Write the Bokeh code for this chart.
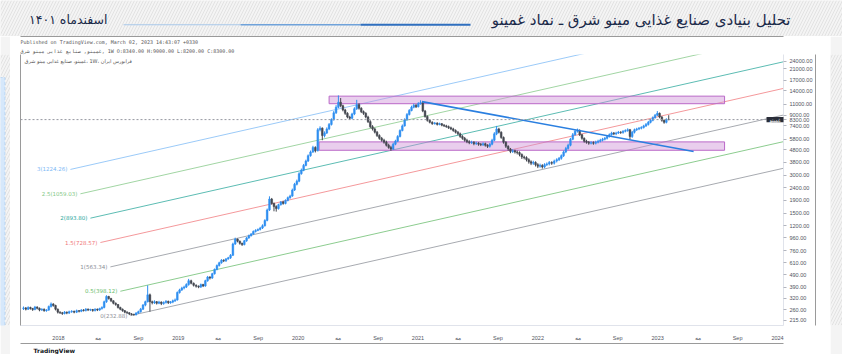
import pandas as pd
import numpy as np
from bokeh.plotting import figure
from bokeh.layouts import column, row
from bokeh.models import (ColumnDataSource, FixedTicker, PrintfTickFormatter, Span,
                          BoxAnnotation, Label, Range1d, LogAxis, LinearAxis, Title)
from bokeh.embed import file_html
from bokeh.resources import INLINE

# ---------------- data ----------------
start_date = "2017-09-16"
first_open = 265
closes = [
    268, 262, 270, 265, 260, 272, 266, 258, 262, 255,
    258, 275, 288, 280, 262, 248, 245, 242, 248, 244,
    250, 252, 248, 255, 252, 258, 256, 262, 258, 260,
    256, 262, 258, 265, 270, 300, 330, 318, 305, 292,
    285, 270, 262, 255, 248, 245, 240, 238, 236, 244,
    250, 262, 282, 300, 340, 300, 295, 300, 292, 298,
    290, 296, 302, 295, 298, 305, 310, 355, 372, 385,
    392, 410, 440, 420, 405, 398, 392, 410, 400, 440,
    470, 462, 500, 540, 580, 610, 640, 632, 655, 668,
    700, 860, 940, 905, 870, 850, 910, 960, 1000, 1030,
    1080, 1100, 1120, 1150, 1200, 1320, 1600, 1950, 1800, 1700,
    1640, 1760, 1850, 1800, 1900, 2000, 2060, 2300, 2550, 2700,
    3100, 3300, 3600, 3900, 4300, 4600, 5000, 4700, 6900, 7100,
    6200, 6500, 7000, 7600, 8300, 9400, 10400, 11400, 10700, 9900,
    9300, 8700, 8500, 9200, 10100, 10900, 10200, 9600, 9300, 8700,
    8000, 7300, 7000, 6600, 6200, 5900, 5700, 5500, 5200, 5000,
    4850, 5300, 5600, 6100, 6800, 7400, 8300, 9100, 9800, 10400,
    10800, 10500, 11100, 11300, 9700, 8800, 8200, 7900, 7700, 7800,
    7600, 7700, 7500, 7400, 7300, 7150, 7000, 6800, 6600, 6400,
    6100, 5900, 5700, 5550, 5450, 5500, 5350, 5400, 5300, 5250,
    5350, 5200, 5100, 5300, 5700, 6400, 7000, 6600, 6000, 5500,
    5100, 4850, 4650, 4700, 4600, 4550, 4400, 4200, 4150, 4000,
    3850, 3750, 3800, 3650, 3550, 3600, 3500, 3650, 3700, 3800,
    3750, 3900, 4000, 4100, 4300, 4600, 4900, 5200, 5800, 6300,
    6700, 6800, 6300, 5900, 5600, 5500, 5400, 5450, 5400, 5500,
    5600, 5700, 5800, 5900, 6100, 6300, 6500, 6400, 6500, 6600,
    6550, 6700, 6800, 6900, 6100, 6600, 6900, 7000, 7100, 7200,
    7400, 7600, 7900, 8200, 8600, 9000, 9300, 8700, 8200, 7900,
    8340, 8300,
]
highs = [
    275, 272, 276, 274, 268, 278, 276, 270, 266, 265,
    262, 280, 296, 292, 284, 265, 252, 249, 253, 251,
    255, 257, 255, 260, 258, 262, 262, 267, 265, 264,
    263, 266, 265, 269, 276, 306, 338, 334, 322, 308,
    296, 288, 274, 265, 258, 252, 248, 244, 241, 248,
    255, 268, 288, 306, 405, 348, 306, 308, 304, 305,
    302, 302, 309, 306, 304, 312, 318, 362, 380, 394,
    402, 420, 455, 448, 426, 412, 404, 418, 416, 448,
    480, 478, 508, 550, 592, 622, 652, 650, 665, 680,
    715, 880, 965, 950, 915, 880, 925, 975, 1020, 1050,
    1100, 1125, 1140, 1175, 1230, 1350, 1640, 2050, 1990, 1830,
    1740, 1790, 1880, 1890, 1940, 2040, 2110, 2360, 2620, 2780,
    3180, 3400, 3700, 4000, 4400, 4720, 5150, 5100, 7100, 7350,
    7200, 6700, 7200, 7800, 8500, 9700, 10800, 12900, 12300, 10900,
    10100, 9500, 8900, 9400, 10400, 11900, 11200, 10400, 9800, 9500,
    8900, 8200, 7500, 7150, 6750, 6350, 6050, 5850, 5650, 5350,
    5150, 5450, 5750, 6250, 6950, 7600, 8500, 9350, 10050, 10700,
    11100, 11000, 11400, 11800, 11500, 9900, 8950, 8350, 8050, 7950,
    7900, 7850, 7800, 7650, 7550, 7450, 7300, 7150, 6950, 6750,
    6550, 6250, 6050, 5850, 5700, 5650, 5600, 5550, 5500, 5420,
    5480, 5450, 5300, 5420, 5850, 6600, 7400, 7150, 6700, 6100,
    5600, 5200, 4950, 4850, 4800, 4720, 4650, 4480, 4300, 4250,
    4100, 3950, 3920, 3880, 3750, 3720, 3680, 3750, 3800, 3900,
    3880, 4000, 4100, 4200, 4400, 4720, 5050, 5350, 5950, 6500,
    6900, 7050, 6950, 6400, 6000, 5750, 5620, 5600, 5580, 5650,
    5750, 5850, 5950, 6050, 6250, 6450, 6650, 6620, 6650, 6750,
    6720, 6850, 6950, 7080, 7000, 6750, 7050, 7150, 7250, 7350,
    7550, 7800, 8100, 8400, 8800, 9200, 9700, 9450, 8850, 8300,
    8500, 9000,
]
lows = [
    258, 256, 258, 260, 254, 257, 261, 252, 254, 250,
    250, 254, 270, 274, 256, 242, 240, 236, 238, 239,
    240, 245, 243, 244, 247, 248, 251, 251, 253, 253,
    250, 251, 253, 254, 260, 266, 294, 312, 298, 286,
    279, 265, 257, 250, 243, 240, 235, 234, 233, 234,
    240, 246, 258, 276, 296, 250, 286, 288, 285, 287,
    282, 284, 290, 288, 289, 292, 299, 306, 348, 365,
    376, 385, 402, 412, 396, 388, 384, 386, 392, 394,
    432, 450, 455, 492, 532, 570, 600, 618, 620, 645,
    655, 690, 845, 885, 850, 830, 838, 895, 945, 985,
    1015, 1060, 1085, 1100, 1130, 1180, 1300, 1570, 1760, 1560,
    1550, 1610, 1730, 1760, 1770, 1870, 1960, 2030, 2260, 2500,
    2650, 3040, 3240, 3540, 3830, 4220, 4520, 4560, 4650, 6700,
    5700, 6000, 6380, 6850, 7450, 8150, 9200, 10200, 10400, 9650,
    9050, 8500, 8250, 8350, 9000, 9900, 9950, 9350, 9050, 8500,
    7800, 7100, 6800, 6450, 6050, 5750, 5550, 5350, 5080, 4880,
    4700, 4780, 5200, 5500, 6000, 6700, 7300, 8150, 8950, 9650,
    10200, 10250, 10350, 10900, 9500, 8600, 8000, 7750, 7550, 7580,
    7450, 7480, 7350, 7250, 7150, 7000, 6850, 6650, 6450, 6250,
    5950, 5750, 5550, 5400, 5300, 5330, 5200, 5230, 5150, 5120,
    5130, 5070, 4950, 4980, 5200, 5600, 6250, 6450, 5850, 5350,
    4950, 4700, 4500, 4520, 4470, 4400, 4250, 4050, 4020, 3870,
    3720, 3620, 3640, 3530, 3430, 3450, 3400, 3420, 3560, 3600,
    3640, 3660, 3800, 3900, 4000, 4200, 4500, 4800, 5100, 5700,
    6200, 6550, 6150, 5750, 5450, 5350, 5250, 5280, 5250, 5280,
    5380, 5480, 5580, 5680, 5780, 5980, 6180, 6250, 6250, 6380,
    6400, 6420, 6580, 6650, 5800, 5950, 6450, 6750, 6850, 6950,
    7050, 7250, 7450, 7750, 8050, 8450, 8850, 8500, 8000, 7700,
    7750, 8200,
]

price_ticks = [215, 260, 320, 390, 490, 610, 760, 960, 1200, 1500, 1900, 2400,
               3000, 3800, 4800, 5800, 7400, 8300, 9000, 11000, 14000, 17000, 21000, 24000]
time_ticks = [12, 16, 20, 24, 28, 32, 36, 40, 44, 48, 52, 56, 60, 64, 68, 72, 76, 80, 84]
time_labels = ["2018", "مه", "Sep", "2019", "مه", "Sep", "2020", "مه", "Sep",
               "2021", "مه", "Sep", "2022", "مه", "Sep", "2023", "مه", "Sep", "2024"]

# zones (x in months since Jan 2017, prices)
box_left = [39.1, 38.1]
box_right = [78.7, 78.7]
box_top = [12730, 5530]
box_bottom = [11090, 4745]

trend_x = [48.4, 75.6]
trend_y = [11520, 4634]

# fib channel
fib_levels = [0, 0.5, 1, 1.5, 2, 2.5, 3]
fib_values = [232.88, 398.12, 563.34, 728.57, 893.80, 1059.03, 1224.26]
fib_colors = ["#8a8d96", "#66bb6a", "#8a8d96", "#f0767a", "#26a69a", "#81c784", "#7ab8f5"]
fib_anchor_month = 19.2
fib_anchor_price = 232.88
fib_slope = 0.01784      # log10 per month
fib_step = 0.4215        # log10 per level unit
fib_shift = 2.0          # months per level unit (left edge of channel)

last_price = 8300
LRM = "\u200e"
ticker_name = "غمینو"
title_text = "تحلیل بنیادی صنایع غذایی مینو شرق ـ نماد غمینو"
date_text = "اسفندماه ۱۴۰۱"
published_text = "Published on TradingView.com, March 02, 2023 14:43:07 +0330"
ohlc_text = "غمینو, صنایع غذایی مینو شرق," + LRM + " 1W O:8340.00 H:9000.00 L:8200.00 C:8300.00"
legend_text = "غمینو، صنایع غذایی مینو شرق، " + LRM + "1W" + LRM + "، فرابورس ایران"

# ---------------- derived ----------------
dates = pd.date_range(start_date, periods=len(closes), freq="7D")
months = np.array([(d.year - 2017) * 12 + (d.month - 1) + (d.day - 1) / d.days_in_month for d in dates])
opens = np.array([first_open] + closes[:-1], dtype=float)
c = np.array(closes, dtype=float)
up = c >= opens
cols = np.where(up, "#2f8ff0", "#454851")
src = ColumnDataSource(dict(x=months, top=np.maximum(opens, c), bottom=np.minimum(opens, c),
                            high=highs, low=lows, color=cols))

X0, X1 = 8.2, 84.6
Y0, Y1 = 194.5, 27200

HATCH = dict(fill_color="#f4f4f4", fill_alpha=1, hatch_pattern="/", hatch_color="#e2e2e2",
             hatch_scale=6, hatch_weight=1, line_color=None, level="underlay")


def bare(w, h, xr, yr):
    f = figure(width=w, height=h, x_range=xr, y_range=yr, output_backend="svg",
               toolbar_location=None, x_axis_location=None, y_axis_location=None,
               min_border=0)
    f.min_border_left = f.min_border_right = f.min_border_top = f.min_border_bottom = 0
    f.outline_line_color = None
    f.xgrid.visible = False
    f.ygrid.visible = False
    f.background_fill_color = "#f4f4f4"
    f.border_fill_color = "#f4f4f4"
    f.add_layout(BoxAnnotation(**HATCH))
    return f


# ---- header strip (canvas px coordinates) ----
head = bare(842, 36, Range1d(0, 842), Range1d(36, 0))
head.add_layout(Label(x=790, y=19, text=title_text, text_align="right", text_baseline="middle",
                      text_font_size="15px", text_color="#1b2a4a", text_font="DejaVu Sans"))
head.add_layout(Label(x=107, y=19, text=date_text, text_align="right", text_baseline="middle",
                      text_font_size="12.5px", text_color="#1b2a4a", text_font="DejaVu Sans"))
for (l, r, t, b, col) in [(123, 240, 23.8, 24.8, "#a9c8ea"), (240, 360, 23.5, 25.0, "#6fa2da"),
                          (360, 470, 23.2, 25.2, "#2f6fbf")]:
    head.add_layout(BoxAnnotation(left=l, right=r, top=t, bottom=b, fill_color=col,
                                  fill_alpha=1, line_color=None))

# ---- side strips ----
left_strip = bare(10, 318, Range1d(0, 10), Range1d(318, 0))
left_strip.add_layout(BoxAnnotation(left=-6, right=4.5, top=27, bottom=330, fill_color="#d6e8fb",
                                    fill_alpha=1, line_color="#64a6e8", line_dash="3 2",
                                    line_width=1))
right_strip = bare(12, 318, Range1d(0, 12), Range1d(318, 0))

# ---- main chart ----
p = figure(width=820, height=318, y_axis_type="log", x_range=Range1d(X0, X1),
           y_range=Range1d(Y0, Y1), output_backend="svg", toolbar_location=None,
           y_axis_location="right", min_border_left=10, min_border_right=47,
           min_border_top=16, min_border_bottom=22)
p.border_fill_color = "white"
p.background_fill_color = "white"
p.outline_line_color = None
p.xgrid.visible = False
p.ygrid.visible = False

AXFONT = "Liberation Sans"
p.xaxis.ticker = FixedTicker(ticks=time_ticks)
p.xaxis.major_label_overrides = {t: lab for t, lab in zip(time_ticks, time_labels)}
p.xaxis.major_tick_line_color = None
p.xaxis.minor_tick_line_color = None
p.xaxis.axis_line_color = "#e0e3eb"
p.xaxis.major_label_text_font_size = "5.5px"
p.xaxis.major_label_text_font = AXFONT
p.xaxis.major_label_text_color = "#50535e"
p.xaxis.major_label_standoff = 3

p.yaxis.ticker = FixedTicker(ticks=price_ticks)
p.yaxis.formatter = PrintfTickFormatter(format="%.2f")
p.yaxis.major_tick_in = 0
p.yaxis.major_tick_out = 3
p.yaxis.major_tick_line_color = "#b2b5be"
p.yaxis.minor_tick_line_color = None
p.yaxis.axis_line_color = "#e0e3eb"
p.yaxis.major_label_text_font_size = "5.5px"
p.yaxis.major_label_text_font = AXFONT
p.yaxis.major_label_text_color = "#50535e"
p.yaxis.major_label_standoff = 3


def frame_axis(ax):
    ax.ticker = FixedTicker(ticks=[])
    ax.major_tick_line_color = None
    ax.minor_tick_line_color = None
    ax.major_label_text_font_size = "0px"
    ax.axis_line_color = "#9a9a9a"
    ax.axis_line_width = 1
    return ax


p.add_layout(frame_axis(LogAxis()), "left")
p.add_layout(frame_axis(LogAxis()), "right")
p.add_layout(frame_axis(LinearAxis()), "below")
p.add_layout(Title(text=ohlc_text, align="left", text_font_size="5px", text_font="DejaVu Sans Mono",
                   text_font_style="normal", text_color="#555555", standoff=1), "above")
p.add_layout(Title(text=published_text, align="left", text_font_size="5px",
                   text_font="DejaVu Sans Mono", text_font_style="normal", text_color="#555555",
                   standoff=1), "above")
p.add_layout(frame_axis(LinearAxis()), "above")
p.add_layout(Title(text="TradingView", align="left", offset=13, text_font_size="6px",
                   text_font="DejaVu Sans", text_font_style="bold", text_color="#131722",
                   standoff=2), "below")

# current price line
p.add_layout(Span(location=last_price, dimension="width", line_color="#9598a1",
                  line_dash="2 2", line_width=1))

# fib channel lines
fx0, fy0, fx1, fy1, ltxt = [], [], [], [], []
for lvl, val in zip(fib_levels, fib_values):
    m0 = fib_anchor_month - fib_shift * lvl
    lg0 = np.log10(fib_anchor_price) + fib_slope * (m0 - fib_anchor_month) + fib_step * lvl
    lg1 = lg0 + fib_slope * (X1 - m0)
    fx0.append(m0); fy0.append(10 ** lg0); fx1.append(X1); fy1.append(10 ** lg1)
    ltxt.append(f"{lvl:g}({val:.2f})")
p.segment(fx0, fy0, fx1, fy1, line_color=fib_colors, line_width=1, line_alpha=0.75)
for m0, y0, t, col in zip(fx0, fy0, ltxt, fib_colors):
    p.add_layout(Label(x=m0, y=y0, text=t, x_offset=-3, text_align="right",
                       text_baseline="middle", text_font_size="5.5px", text_color=col,
                       text_font="DejaVu Sans"))

# zones
p.quad(left=box_left, right=box_right, top=box_top, bottom=box_bottom,
       fill_color="#ce93d8", fill_alpha=0.45, line_color="#ba68c8", line_width=1)

# candles
p.segment("x", "high", "x", "low", source=src, line_color="color", line_width=1)
p.vbar(x="x", width=0.17, top="top", bottom="bottom", source=src,
       fill_color="color", line_color="color", line_width=0.5)

# trend line
p.line(trend_x, trend_y, line_color="#2a7fe0", line_width=1.6)

# legend text and price tag inside the pane
p.add_layout(Label(x=X0, y=24000, x_offset=4, text=legend_text,
                   text_align="left", text_baseline="middle", text_font_size="5px",
                   text_color="#555555", text_font="DejaVu Sans"))
p.add_layout(BoxAnnotation(left=82.9, right=X1 + 1, top=last_price * 1.05,
                           bottom=last_price / 1.05, fill_color="#2a2e39",
                           fill_alpha=1, line_color=None))
p.add_layout(Label(x=83.75, y=last_price, text=ticker_name,
                   text_align="center", text_baseline="middle", text_font_size="5px",
                   text_color="white", text_font="DejaVu Sans"))

layout = column(head, row(left_strip, p, right_strip, spacing=0), spacing=0)
open("out.html", "w").write(file_html(layout, INLINE))
